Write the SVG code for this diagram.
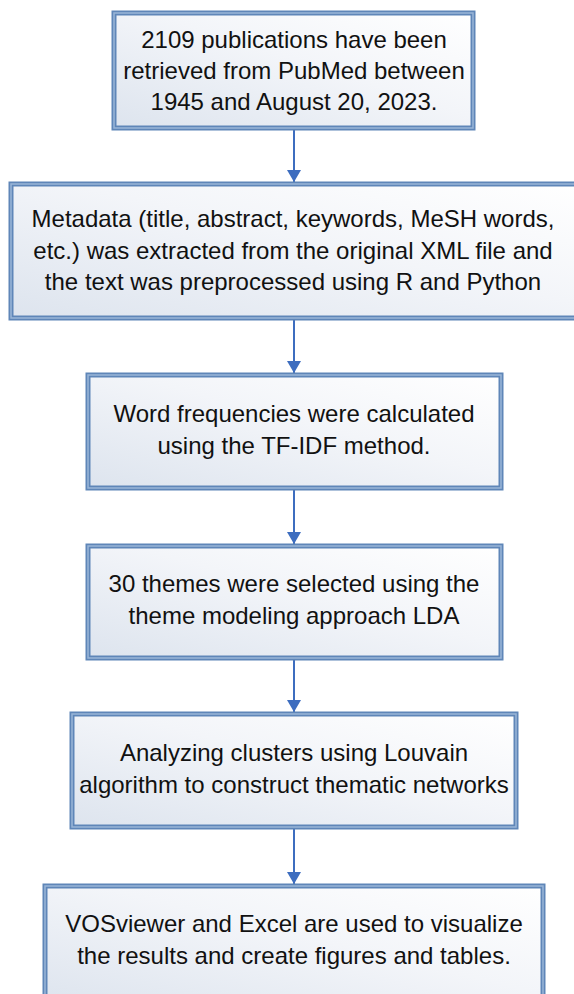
<svg xmlns="http://www.w3.org/2000/svg" width="574" height="994" viewBox="0 0 574 994">
<defs>
<linearGradient id="fill" x1="0" y1="1" x2="1" y2="0">
<stop offset="0" stop-color="#dde4ee"/>
<stop offset="0.55" stop-color="#f3f5f9"/>
<stop offset="1" stop-color="#ffffff"/>
</linearGradient>
<marker id="ah" viewBox="0 0 12 14" refX="12" refY="7" markerWidth="12" markerHeight="14" markerUnits="userSpaceOnUse" orient="auto">
<path d="M0,0 L12,7 L0,14 Z" fill="#3d6dbf"/>
</marker>
</defs>
<style>
.box{fill:url(#fill);stroke:#5f86b8;stroke-width:5}
.inner{fill:none;stroke:#9ab6d8;stroke-width:1.5}
.t{font-family:"Liberation Sans",Arial,sans-serif;font-size:24px;fill:#111;text-anchor:middle}
.c{stroke:#3d6dbf;stroke-width:2;fill:none}
</style>
<rect width="574" height="994" fill="#ffffff"/>
<g id="connectors">
<line class="c" x1="294" y1="130" x2="294" y2="182" marker-end="url(#ah)"/>
<line class="c" x1="294" y1="320" x2="294" y2="373" marker-end="url(#ah)"/>
<line class="c" x1="294" y1="490" x2="294" y2="544" marker-end="url(#ah)"/>
<line class="c" x1="294" y1="660" x2="294" y2="712" marker-end="url(#ah)"/>
<line class="c" x1="294" y1="829" x2="294" y2="884" marker-end="url(#ah)"/>
</g>
<g id="n1">
<rect class="box" x="114" y="13" width="359" height="115"/>
<rect class="inner" x="114" y="13" width="359" height="115"/>
<text class="t" x="294" y="48">2109 publications have been</text>
<text class="t" x="294" y="79">retrieved from PubMed between</text>
<text class="t" x="294" y="110">1945 and August 20, 2023.</text>
</g>
<g id="n2">
<rect class="box" x="11" y="184" width="570" height="134"/>
<rect class="inner" x="11" y="184" width="570" height="134"/>
<text class="t" x="293" y="227">Metadata (title, abstract, keywords, MeSH words,</text>
<text class="t" x="293" y="259">etc.) was extracted from the original XML file and</text>
<text class="t" x="293" y="290">the text was preprocessed using R and Python</text>
</g>
<g id="n3">
<rect class="box" x="88" y="375" width="413" height="113"/>
<rect class="inner" x="88" y="375" width="413" height="113"/>
<text class="t" x="294" y="422">Word frequencies were calculated</text>
<text class="t" x="294" y="454">using the TF-IDF method.</text>
</g>
<g id="n4">
<rect class="box" x="88" y="546" width="413" height="112"/>
<rect class="inner" x="88" y="546" width="413" height="112"/>
<text class="t" x="294" y="592">30 themes were selected using the</text>
<text class="t" x="294" y="624">theme modeling approach LDA</text>
</g>
<g id="n5">
<rect class="box" x="72" y="714" width="444" height="113"/>
<rect class="inner" x="72" y="714" width="444" height="113"/>
<text class="t" x="294" y="761">Analyzing clusters using Louvain</text>
<text class="t" x="294" y="793">algorithm to construct thematic networks</text>
</g>
<g id="n6">
<rect class="box" x="45" y="886" width="498" height="120"/>
<rect class="inner" x="45" y="886" width="498" height="120"/>
<text class="t" x="294" y="932">VOSviewer and Excel are used to visualize</text>
<text class="t" x="294" y="964">the results and create figures and tables.</text>
</g>
</svg>
